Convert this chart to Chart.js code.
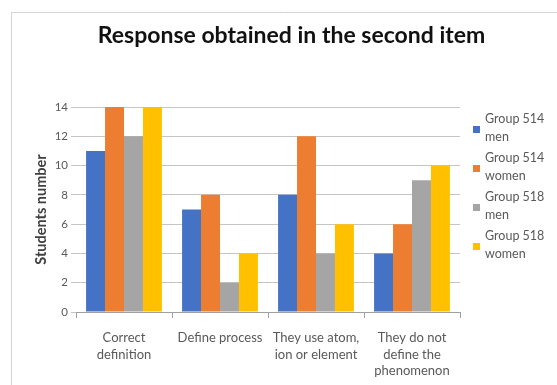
<!DOCTYPE html>
<html>
<head>
<meta charset="utf-8">
<title>Response obtained in the second item</title>
<script src="https://cdn.jsdelivr.net/npm/chart.js@4/dist/chart.umd.min.js"></script>
<style>
  html, body { margin: 0; padding: 0; background: #ffffff; }
  #wrap { width: 557px; height: 385px; position: relative; }
</style>
</head>
<body>
<div id="wrap"><canvas id="chart" width="557" height="385"></canvas></div>
<script>
// Chart text
const chartTitle = "Response obtained in the second item";
const yAxisTitle = "Students number";

// Answer categories (multi-line labels)
const categories = [
  ["Correct", "definition"],
  "Define process",
  ["They use atom,", "ion or element"],
  ["They do not", "define the", "phenomenon"]
];

// Students per answer, by group
const group514Men   = [11, 7, 8, 4];
const group514Women = [14, 8, 12, 6];
const group518Men   = [12, 2, 4, 9];
const group518Women = [14, 4, 6, 10];

// Legend names (wrapped over two lines)
const seriesNames = [
  ["Group 514", "men"],
  ["Group 514", "women"],
  ["Group 518", "men"],
  ["Group 518", "women"]
];
const seriesColors = ["#4472C4", "#ED7D31", "#A5A5A5", "#FFC000"];

// Y axis range
const yMin = 0;
const yMax = 14;
const yStep = 2;

const FONT = "Lato, 'Open Sans', 'DejaVu Sans', sans-serif";
const TEXT_GRAY = "#595959";

// Background, frame, title and the wrapped legend
const decor = {
  id: "decor",
  beforeDraw(chart) {
    const ctx = chart.ctx;
    ctx.save();
    ctx.fillStyle = "#ffffff";
    ctx.fillRect(0, 0, chart.width, chart.height);
    ctx.strokeStyle = "#D4D4D4";
    ctx.lineWidth = 1;
    ctx.beginPath();
    ctx.moveTo(11.5, chart.height);
    ctx.lineTo(11.5, 12.5);
    ctx.lineTo(chart.width, 12.5);
    ctx.stroke();
    ctx.restore();
  },
  afterDraw(chart) {
    const ctx = chart.ctx;
    const area = chart.chartArea;
    ctx.save();
    // title
    ctx.fillStyle = "#111111";
    ctx.font = "bold 23px " + FONT;
    ctx.textAlign = "center";
    ctx.textBaseline = "middle";
    ctx.fillText(chartTitle, chart.width / 2 + 13, 36);

    // legend
    ctx.font = "12.5px " + FONT;
    ctx.textAlign = "left";
    const lx = area.right + 13;
    const firstY = 118.5;
    const pitch = 39;
    const lineGap = 18;
    chart.data.datasets.forEach((ds, i) => {
      const top = firstY + i * pitch;
      ctx.fillStyle = ds.backgroundColor;
      ctx.fillRect(lx, top + 11 - 3.5, 7, 7);
      ctx.fillStyle = TEXT_GRAY;
      seriesNames[i].forEach((t, k) => {
        ctx.fillText(t, lx + 12, top + k * lineGap);
      });
    });
    ctx.restore();
  }
};

const datasets = [group514Men, group514Women, group518Men, group518Women].map((vals, i) => ({
  label: seriesNames[i].join(" "),
  data: vals,
  backgroundColor: seriesColors[i],
  borderWidth: 0,
  categoryPercentage: 0.79,
  barPercentage: 1.0
}));

new Chart(document.getElementById("chart"), {
  type: "bar",
  data: { labels: categories, datasets: datasets },
  options: {
    responsive: false,
    animation: false,
    layout: { padding: { left: 25, right: 97, top: 107, bottom: 0 } },
    plugins: {
      legend: { display: false },
      title: { display: false },
      tooltip: { enabled: false }
    },
    scales: {
      x: {
        grid: {
          display: true,
          drawOnChartArea: false,
          tickLength: 6,
          color: "#A0A0A0"
        },
        border: { display: true, color: "#A0A0A0", width: 1 },
        ticks: {
          color: TEXT_GRAY,
          font: { family: FONT, size: 13, lineHeight: 1.3 },
          padding: 11,
          maxRotation: 0,
          autoSkip: false
        },
        afterFit(scale) { scale.height = 73; }
      },
      y: {
        min: yMin,
        max: yMax,
        ticks: {
          stepSize: yStep,
          color: TEXT_GRAY,
          font: { family: FONT, size: 11.5 },
          padding: 3
        },
        grid: { color: "#C6C6C6", tickLength: 5 },
        border: { display: false },
        title: {
          display: true,
          text: yAxisTitle,
          color: "#404040",
          font: { family: FONT, size: 14.5, weight: "bold" },
          padding: { top: 8, bottom: 0 }
        },
        afterFit(scale) { scale.width = 51; }
      }
    }
  },
  plugins: [decor]
});
</script>
</body>
</html>
